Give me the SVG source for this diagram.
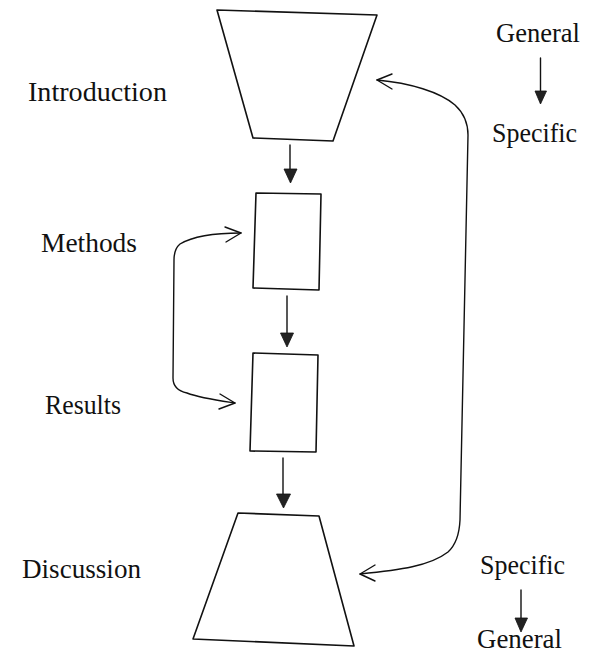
<svg xmlns="http://www.w3.org/2000/svg" width="592" height="653" viewBox="0 0 592 653">
<style>
  .shape { fill: #fff; stroke: #111; stroke-width: 1.6; stroke-linejoin: round; }
  .line { fill: none; stroke: #111; stroke-width: 1.4; stroke-linecap: round; stroke-linejoin: round; }
  .head { fill: #222; stroke: #111; stroke-width: 0.8; stroke-linejoin: round; }
  .label { font-family: "Liberation Serif", "Times New Roman", serif; font-size: 27px; fill: #111; }
</style>
<rect width="592" height="653" fill="#fff"/>

<g id="introduction">
  <polygon class="shape" points="217,10 377,15 333,141 253,138"/>
  <text class="label" x="28" y="101" textLength="139" lengthAdjust="spacingAndGlyphs">Introduction</text>
</g>
<g id="methods">
  <polygon class="shape" points="256,193 321,194 319,290 253,288"/>
  <text class="label" x="41" y="252" textLength="96" lengthAdjust="spacingAndGlyphs">Methods</text>
</g>
<g id="results">
  <polygon class="shape" points="253,353 318,355 316,452 250,451"/>
  <text class="label" x="45" y="414" textLength="76" lengthAdjust="spacingAndGlyphs">Results</text>
</g>
<g id="discussion">
  <polygon class="shape" points="238,513 319,516 354,646 193,639"/>
  <text class="label" x="22" y="578" textLength="119" lengthAdjust="spacingAndGlyphs">Discussion</text>
</g>
<g id="general-specific">
  <text class="label" x="496" y="42" textLength="84" lengthAdjust="spacingAndGlyphs">General</text>
  <line class="line" x1="540.5" y1="58" x2="540.5" y2="94"/>
  <polygon class="head" points="535,91 546.5,91 540.5,104"/>
  <text class="label" x="492" y="142" textLength="85" lengthAdjust="spacingAndGlyphs">Specific</text>
</g>
<g id="specific-general">
  <text class="label" x="480" y="574" textLength="85" lengthAdjust="spacingAndGlyphs">Specific</text>
  <line class="line" x1="521" y1="590" x2="521" y2="620"/>
  <polygon class="head" points="515,618 527.5,618 521,632"/>
  <text class="label" x="477" y="648" textLength="85" lengthAdjust="spacingAndGlyphs">General</text>
</g>

<g id="connectors">
  <line class="line" x1="290" y1="145" x2="290" y2="170"/>
  <polygon class="head" points="284,169 297,169 290.5,183"/>
  <line class="line" x1="287" y1="296" x2="287" y2="334"/>
  <polygon class="head" points="280.5,333 293.5,333 287,347"/>
  <line class="line" x1="283" y1="458" x2="283" y2="495"/>
  <polygon class="head" points="276.5,494 290.5,494 283.5,508"/>

  <path class="line" d="M241,233 C210,233 190,238 180,244 Q174,249 174,260 L173,378 Q173,390 187,393 C200,398 215,400 235,403"/>
  <polyline class="line" points="225,227 241,233 226,242"/>
  <polyline class="line" points="220,394 235,403 219,409"/>

  <path class="line" d="M377,80 C410,83 440,92 455,105 Q468,117 468,135 L460,520 Q459,542 448,552 C430,566 400,570 360,574"/>
  <polyline class="line" points="392,74 377,80 392,89"/>
  <polyline class="line" points="375,565 360,574 375,581"/>
</g>
</svg>
